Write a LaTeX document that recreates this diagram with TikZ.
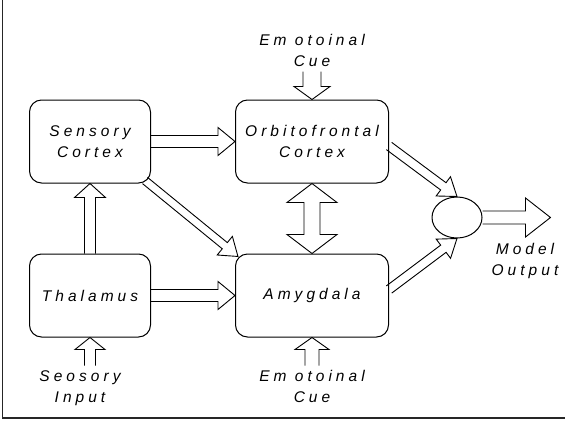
\documentclass[tikz,border=0pt]{standalone}
\usepackage{fontspec}
\setmainfont{Liberation Sans}
\newfontfamily\spacedfont[LetterSpace=26]{Liberation Sans}
\usetikzlibrary{shapes.geometric, positioning, calc, backgrounds}
\newcommand{\boxfont}{\spacedfont\itshape\fontsize{15.5}{21}\selectfont}
\tikzset{
    block/.style={rectangle, draw, rounded corners=12pt, line width=1pt,
        minimum width=121pt, minimum height=83pt, align=center, font=\boxfont},
    wideblock/.style={block, minimum width=153pt},
    junction/.style={ellipse, draw, line width=1pt, minimum width=50pt,
        minimum height=41pt, inner sep=0pt},
    lbl/.style={align=center, font=\boxfont, inner xsep=2pt, inner ysep=5pt},
    hollow/.style={draw, fill=white, line width=0.9pt, line join=miter},
    frameline/.style={draw=black!85, line width=1.6pt}
}
% hollow block arrow: from, to, half shaft, half head, head length
\newcommand{\blockarrow}[5]{%
    \draw[hollow] let \p1=($(#2)-(#1)$), \n1={atan2(\y1,\x1)}, \n2={veclen(\x1,\y1)} in
        {[shift={(#1)}, rotate=\n1]
        (0pt,-#3) -- ({\n2-#5},-#3) -- ({\n2-#5},-#4) -- ({\n2},0pt)
        -- ({\n2-#5},#4) -- ({\n2-#5},#3) -- (0pt,#3)};}
% same, with a head at both ends
\newcommand{\doublearrow}[5]{%
    \draw[hollow] let \p1=($(#2)-(#1)$), \n1={atan2(\y1,\x1)}, \n2={veclen(\x1,\y1)} in
        {[shift={(#1)}, rotate=\n1]
        (0pt,0pt) -- (#5,#4) -- (#5,#3) -- ({\n2-#5},#3) -- ({\n2-#5},#4) -- ({\n2},0pt)
        -- ({\n2-#5},-#4) -- ({\n2-#5},-#3) -- (#5,-#3) -- (#5,-#4) -- cycle};}

\begin{document}
\begin{tikzpicture}[x=1pt, y=-1pt]
    \useasboundingbox (0,0) rectangle (565,423);
    \draw[frameline] (2.5,0) -- (2.5,418) -- (565,418);

    \node[block] (sensory) at (90,141.5) {Sensory\\Cortex};
    \node[wideblock, right=84pt of sensory] (orbito) {Orbitofrontal\\Cortex};
    \node[block, below=70pt of sensory] (thalamus) {Thalamus};
    \node[wideblock, right=84pt of thalamus] (amygdala) {Amygdala};
    \node[junction] (junction) at (457,217.5) {};

    \node[lbl, above=28pt of orbito] (cuetop) {Em otoinal\\Cue};
    \node[lbl, below=28pt of amygdala] (cuebot) {Em otoinal\\Cue};
    \node[lbl, below=28pt of thalamus, xshift=-10pt] (input) {Seosory\\Input};
    \node[lbl] (output) at (525,261) {Model\\Output};

    \coordinate (inputtip) at (thalamus.south |- input.north);
    \coordinate (sensorycorner) at ($(sensory.south east)+(-6,-3)$);
    \coordinate (amycorner) at ($(amygdala.north west)+(3,3)$);
    \coordinate (orbitoout) at ($(orbito.east)+(0,4.5)$);
    \coordinate (amygout) at ($(amygdala.east)+(0,-6)$);
    \coordinate (outtip) at ($(junction.east)+(68,0)$);

    \begin{scope}[on background layer]
    \blockarrow{sensory.east}{orbito.west}{6pt}{14pt}{17pt}
    \blockarrow{thalamus.east}{amygdala.west}{6pt}{14pt}{17pt}
    \blockarrow{thalamus.north}{sensory.south}{5.5pt}{15.5pt}{14pt}
    \blockarrow{sensorycorner}{amycorner}{4pt}{12pt}{17pt}
    \blockarrow{orbitoout}{junction.north}{4.5pt}{12pt}{17pt}
    \blockarrow{amygout}{junction.south}{4.5pt}{12pt}{17pt}
    \blockarrow{junction.east}{outtip}{6.5pt}{19.5pt}{25pt}
    \blockarrow{cuetop.south}{orbito.north}{9pt}{18pt}{13pt}
    \blockarrow{cuebot.north}{amygdala.south}{7pt}{17pt}{12pt}
    \blockarrow{inputtip}{thalamus.south}{5.5pt}{15pt}{12pt}
    \doublearrow{orbito.south}{amygdala.north}{8pt}{25pt}{19pt}
    \end{scope}
\end{tikzpicture}
\end{document}
